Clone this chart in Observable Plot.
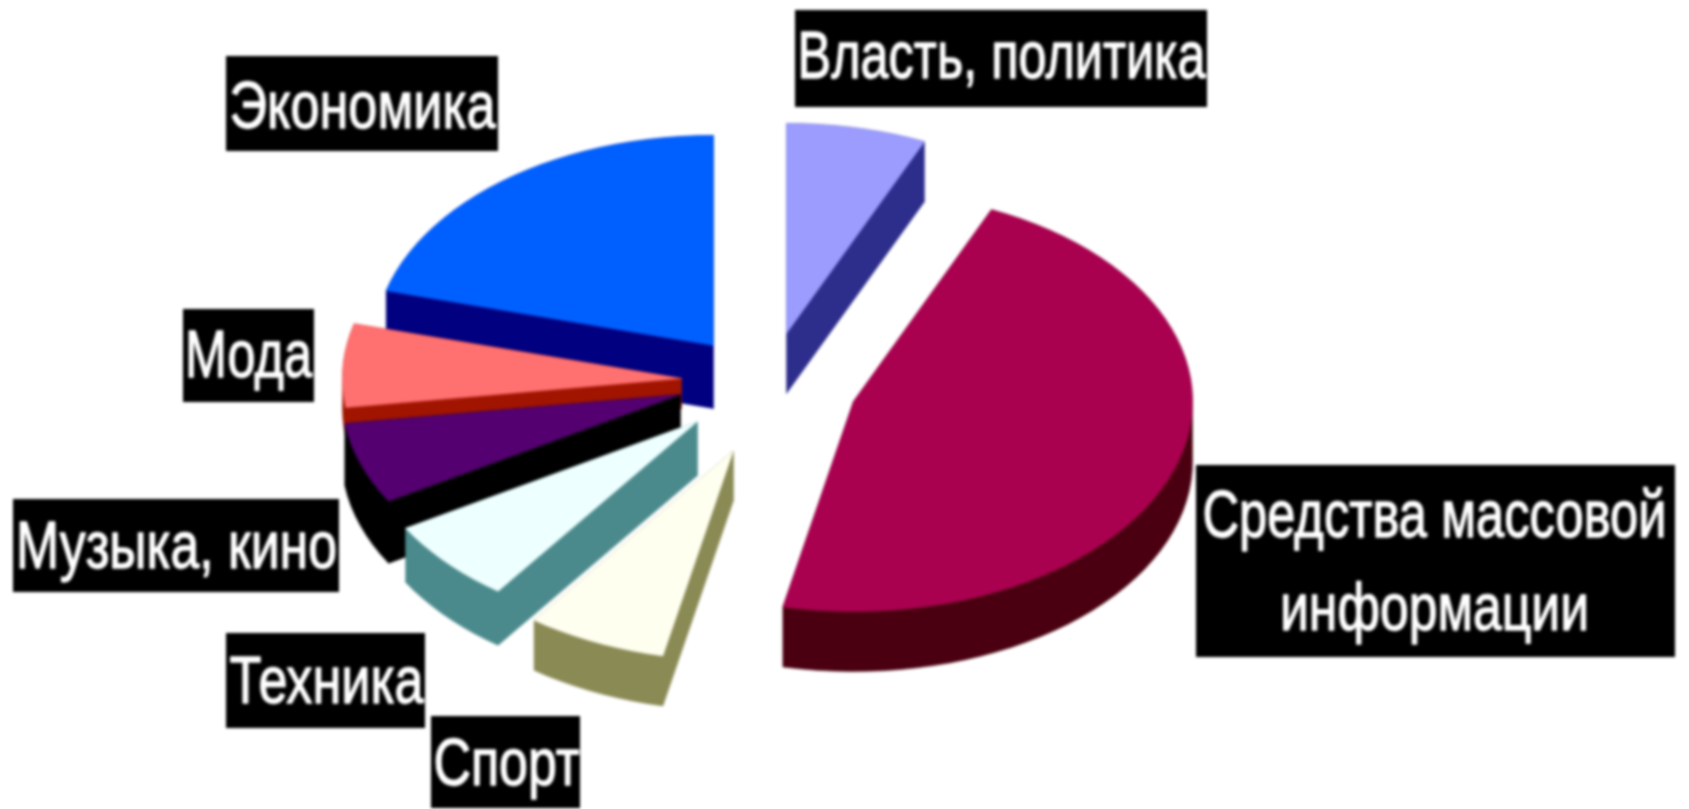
<!DOCTYPE html>
<html>
<head>
<meta charset="utf-8">
<script src="https://cdn.jsdelivr.net/npm/d3@7"></script>
<script src="https://cdn.jsdelivr.net/npm/@observablehq/plot@0.6"></script>
<style>
html,body{margin:0;padding:0;background:#fff;overflow:hidden}
svg{display:block;filter:blur(1.5px)}
</style>
</head>
<body>
<div id="chart"></div>
<script>
// Data
const sliceNames = ["Власть, политика","Средства массовой информации","Спорт","Техника","Музыка, кино","Мода","Экономика"];
const sliceShares = [6.67, 46.67, 6.67, 6.5, 6.28, 6.4, 20.81];
const topColors = ["#9c9cff","#aa0050","#fffff0","#eeffff","#540070","#ff7070","#0060ff"];
const sideColors = ["#2d2d8c","#4a0010","#8a8a55","#4b8a8c","#000000","#a01400","#000080"];

// Label texts
const labelLines = ["Власть, политика","Экономика","Мода","Музыка, кино","Техника","Спорт","Средства массовой","информации"];

// Layout (pixels in the 1689x809 frame)
const rx = 339, ry = 210;
const apexX = [786, 853, 733, 697, 680, 681, 713];
const apexY = [333, 401, 450, 421, 394, 378, 345];
const depth = [60, 60, 50, 54, 62, 30, 63];
const drawOrder = [6, 5, 0, 4, 3, 2, 1];
const boxX1 = [795, 226, 183, 13, 226, 431, 1196];
const boxX2 = [1207, 498, 314, 339, 425, 580, 1675];
const boxY1 = [10, 56, 309, 499, 633, 716, 465];
const boxY2 = [107, 151, 402, 592, 728, 808, 657];
const textCx = [1001, 362, 248, 176, 326, 506, 1434, 1434];
const textCy = [56, 106, 355, 546, 681, 763, 515, 608];
const textLen = [408, 266, 127, 321, 194, 146, 464, 309];

const arcs = d3.pie().sort(null).value(d => d)(sliceShares);
const marks = [];
for (const i of drawOrder) {
  const a = arcs[i];
  const top = [[apexX[i], apexY[i]]];
  const n = Math.max(2, Math.ceil((a.endAngle - a.startAngle) / 0.05));
  d3.range(n + 1).forEach(k => {
    const t = a.startAngle + (a.endAngle - a.startAngle) * k / n;
    top.push([apexX[i] + rx * Math.sin(t), apexY[i] - ry * Math.cos(t)]);
  });
  const bottom = top.map(([x, y]) => [x, y + depth[i]]);
  const hull = d3.polygonHull(top.concat(bottom));
  const pts = p => p.concat([p[0]]).map(([x, y]) => ({x, y}));
  marks.push(Plot.line(pts(hull), {x: "x", y: "y", fill: sideColors[i], stroke: sideColors[i], strokeWidth: 0.5, curve: "linear"}));
  marks.push(Plot.line(pts(top), {x: "x", y: "y", fill: topColors[i], stroke: topColors[i], strokeWidth: 0.5, curve: "linear"}));
}
const boxes = boxX1.map((x1, i) => ({x1, x2: boxX2[i], y1: boxY1[i], y2: boxY2[i]}));
marks.push(Plot.rect(boxes, {x1: "x1", x2: "x2", y1: "y1", y2: "y2", fill: "#000", inset: 0}));
const labels = labelLines.map((t, i) => ({t, x: textCx[i], y: textCy[i]}));
marks.push(Plot.text(labels, {
  x: "x", y: "y", text: "t", fill: "#fff", stroke: "#fff", strokeWidth: 1.3,
  fontFamily: "'Liberation Sans Narrow','Liberation Sans',sans-serif",
  fontSize: 66, fontWeight: "normal", textAnchor: "middle", lineAnchor: "middle"
}));

const svg = Plot.plot({
  width: 1689, height: 809,
  marginTop: 0, marginRight: 0, marginBottom: 0, marginLeft: 0,
  x: {domain: [0, 1689], range: [0, 1689], axis: null},
  y: {domain: [0, 809], range: [0, 809], axis: null},
  style: {background: "#fff"},
  marks
});
d3.select(svg).selectAll("text").each(function(d, j) {
  this.setAttribute("textLength", textLen[j]);
  this.setAttribute("lengthAdjust", "spacingAndGlyphs");
});
document.getElementById("chart").appendChild(svg);
</script>
</body>
</html>
